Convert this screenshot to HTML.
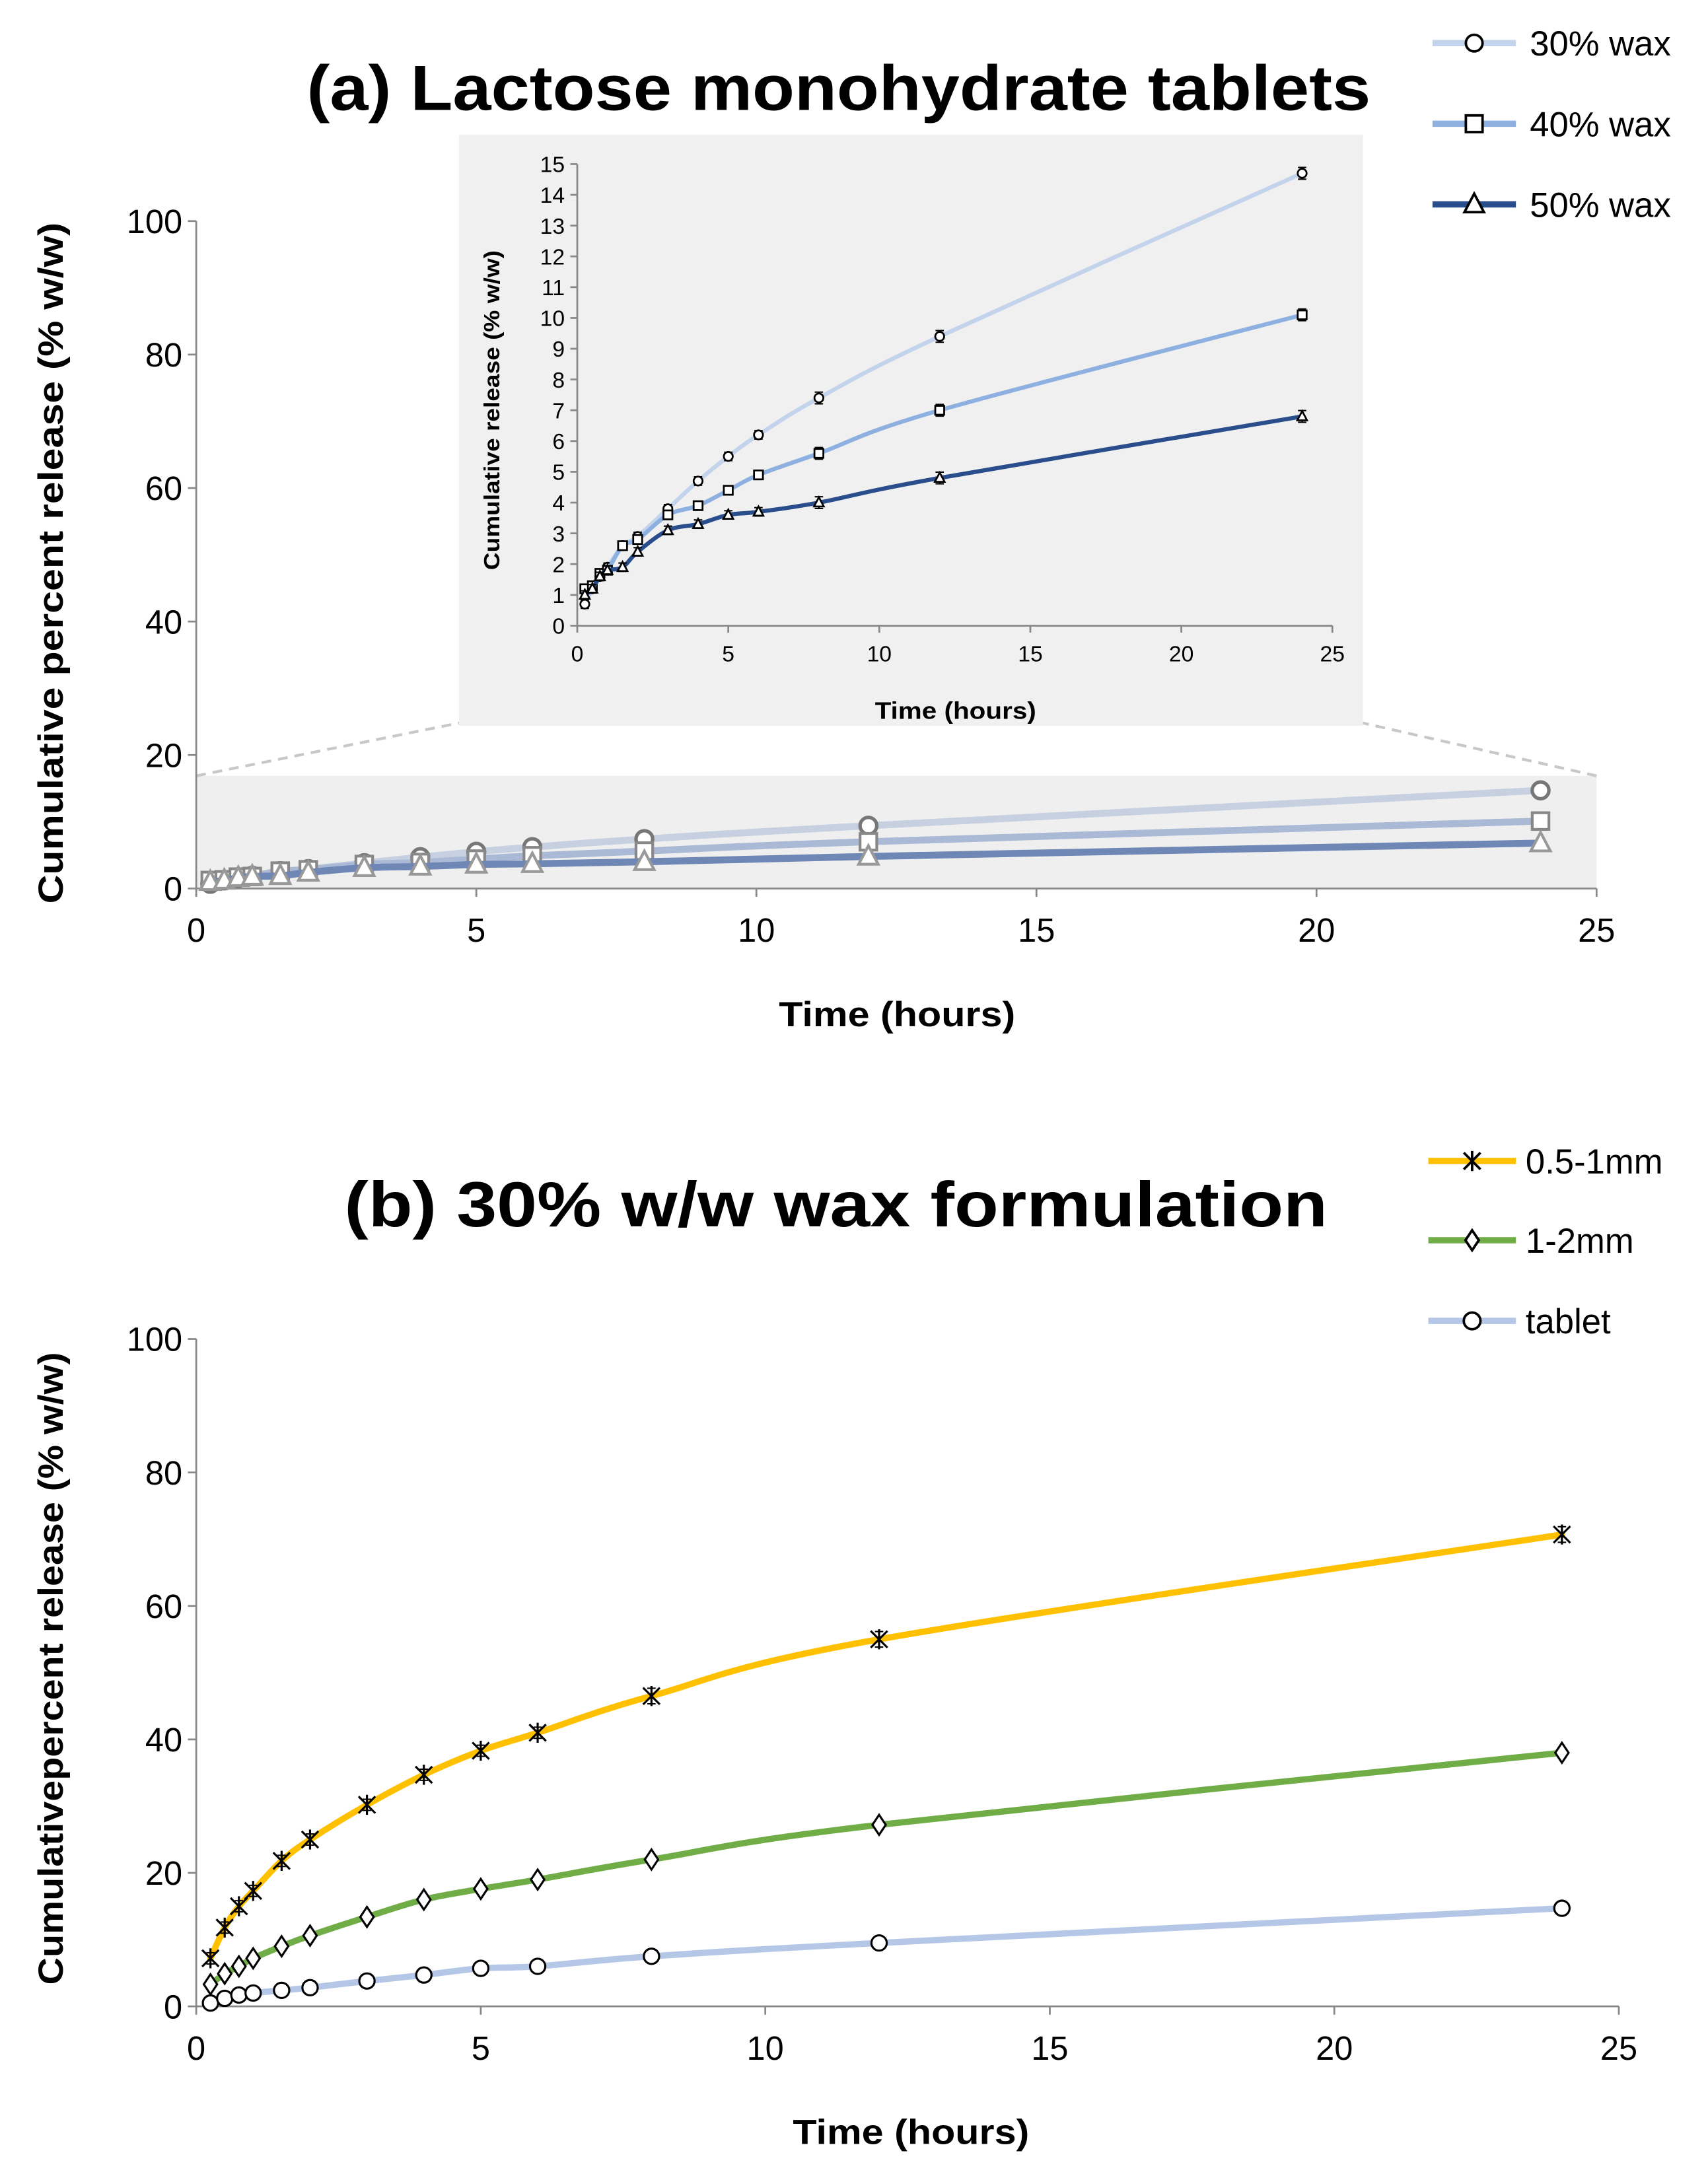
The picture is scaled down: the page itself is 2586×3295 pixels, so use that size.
<!DOCTYPE html>
<html><head><meta charset="utf-8"><style>
html,body{margin:0;padding:0;background:#fff;}
svg{display:block;font-family:"Liberation Sans",sans-serif;}
</style></head><body>
<svg id="fig" width="2586" height="3295" viewBox="0 0 1228 1565" xmlns="http://www.w3.org/2000/svg">
<g id="ga"></g>
<g id="gi"></g>
<g id="gb"></g>
</svg>
<script>
const times = [0.25,0.5,0.75,1,1.5,2,3,4,5,6,8,12,24];
const wax30 = [0.7,1.2,1.6,1.9,2.6,2.9,3.8,4.7,5.5,6.2,7.4,9.4,14.7];
const wax40 = [1.2,1.3,1.7,1.8,2.6,2.8,3.6,3.9,4.4,4.9,5.6,7.0,10.1];
const wax50 = [1.0,1.2,1.6,1.8,1.9,2.4,3.1,3.3,3.6,3.7,4.0,4.8,6.8];
const mm05 = [7.2,11.8,15,17.3,21.8,25,30.2,34.7,38.3,41,46.5,55,70.7];
const mm12 = [3.3,4.9,6,7.2,9,10.6,13.4,16,17.6,19,22,27.2,38];
const tablet = [0.5,1.2,1.7,2,2.4,2.8,3.8,4.7,5.7,6,7.5,9.5,14.7];
const xTicks = [0,5,10,15,20,25];
const yTicksMain = [0,20,40,60,80,100];
const yTicksInset = [0,1,2,3,4,5,6,7,8,9,10,11,12,13,14,15];
const NS="http://www.w3.org/2000/svg";
function el(p,t,a){const e=document.createElementNS(NS,t);for(const k in a)e.setAttribute(k,a[k]);p.appendChild(e);return e;}
function txt(p,x,y,s,a){const e=el(p,'text',Object.assign({x:x,y:y},a));e.textContent=s;return e;}
function smooth(pts){let d=`M${pts[0][0]},${pts[0][1]}`;for(let i=0;i<pts.length-1;i++){const p0=pts[Math.max(0,i-1)],p1=pts[i],p2=pts[i+1],p3=pts[Math.min(pts.length-1,i+2)];d+=` C${p1[0]+(p2[0]-p0[0])/6},${p1[1]+(p2[1]-p0[1])/6} ${p2[0]-(p3[0]-p1[0])/6},${p2[1]-(p3[1]-p1[1])/6} ${p2[0]},${p2[1]}`;}return d;}
function marker(g,type,x,y,r,sw,stroke){
  let m;
  if(type==='circle')m=el(g,'circle',{cx:x,cy:y,r:r,fill:'#fff',stroke:stroke,'stroke-width':sw});
  else if(type==='square')m=el(g,'rect',{x:x-r,y:y-r,width:2*r,height:2*r,fill:'#fff',stroke:stroke,'stroke-width':sw});
  else if(type==='tri')m=el(g,'polygon',{points:`${x},${y-r*1.1} ${x-r},${y+r*0.8} ${x+r},${y+r*0.8}`,fill:'#fff',stroke:stroke,'stroke-width':sw});
  else if(type==='diamond')m=el(g,'polygon',{points:`${x},${y-r*1.2} ${x+r*0.8},${y} ${x},${y+r*1.2} ${x-r*0.8},${y}`,fill:'#fff',stroke:stroke,'stroke-width':sw});
  else if(type==='star'){m=el(g,'path',{d:`M${x-r},${y-r}L${x+r},${y+r}M${x+r},${y-r}L${x-r},${y+r}M${x},${y-r*1.2}L${x},${y+r*1.2}`,stroke:stroke,'stroke-width':sw,fill:'none'});}
  return m;
}
function axes(g,X,Y,x0,x1,y0,y1,yt,fs,tickLen){
  const ax=el(g,'path',{d:`M${x0},${y1}V${y0}H${x1}`,stroke:'#888','stroke-width':1.3,fill:'none'});
  
  xTicks.forEach(t=>{el(g,'line',{x1:X(t),x2:X(t),y1:y0,y2:y0+tickLen,stroke:'#888','stroke-width':1.3});
    const l=txt(g,X(t),y0+fs*1.6,String(t),{'font-size':fs,'text-anchor':'middle',fill:'#000'});
    });
  yt.forEach(t=>{el(g,'line',{x1:x0-tickLen,x2:x0,y1:Y(t),y2:Y(t),stroke:'#888','stroke-width':1.3});
    const l=txt(g,x0-tickLen-4,Y(t)+fs*0.36,String(t),{'font-size':fs,'text-anchor':'end',fill:'#000'});
    });
}
function series(g,X,Y,vals,color,w,mk,r,sw,mstroke,name,err){
  const pts=times.map((t,i)=>[X(t),Y(vals[i])]);
  const p=el(g,'path',{d:smooth(pts),stroke:color,'stroke-width':w,fill:'none','stroke-linecap':'round'});
  
  pts.forEach((q,i)=>{
    if(err){const e=err*(i>9?1.4:1);el(g,'path',{d:`M${q[0]},${q[1]-e}V${q[1]+e}M${q[0]-3},${q[1]-e}H${q[0]+3}M${q[0]-3},${q[1]+e}H${q[0]+3}`,stroke:'#000','stroke-width':1,fill:'none'});}
    const m=marker(g,mk,q[0],q[1],r,sw,mstroke);
    
  });
}
function legend(g,y,color,mk,label,x0,x1,tx,r){
  const lg=el(g,'g',{});
  el(lg,'line',{x1:x0,x2:x1,y1:y,y2:y,stroke:color,'stroke-width':4.5});
  marker(lg,mk,(x0+x1)/2,y,r,1.8,'#000');
  txt(lg,tx,y+9,label,{'font-size':25,fill:'#000'});
}
// ---- chart a ----
(function(){
  const g=document.getElementById('ga');
  const X=t=>141+t*(1148-141)/25, Y=v=>639-v*(639-159)/100;
  const t=txt(g,603,79,'(a) Lactose monohydrate tablets',{'font-size':46,'font-weight':'bold','text-anchor':'middle',textLength:765,lengthAdjust:'spacingAndGlyphs'});
  
  el(g,'rect',{x:141,y:558,width:1007,height:81,fill:'#efefef'});
  el(g,'path',{d:'M141,558L330,520M1148,558L980,520',stroke:'#c8c8c8','stroke-width':2,'stroke-dasharray':'7,5',fill:'none'});
  axes(g,X,Y,141,1148,639,159,yTicksMain,24,6);
  series(g,X,Y,wax30,'#c6d0e0',5,'circle',6,2.5,'#777','wax30-main');
  series(g,X,Y,wax40,'#a9b9d6',5,'square',6,2,'#888','wax40-main');
  series(g,X,Y,wax50,'#6e87b5',5,'tri',7,2,'#999','wax50-main');
  const xl=txt(g,645,738,'Time (hours)',{'font-size':25,'font-weight':'bold','text-anchor':'middle',textLength:170,lengthAdjust:'spacingAndGlyphs'});
  
  const yl=txt(g,0,0,'Cumulative percent release (% w/w)',{'font-size':25,'font-weight':'bold','text-anchor':'middle',textLength:490,lengthAdjust:'spacingAndGlyphs',transform:'translate(45,405) rotate(-90)'});
  
  legend(g,31,'#c3d3ec','circle','30% wax',1030,1090,1100,6);
  legend(g,89,'#8eb0e0','square','40% wax',1030,1090,1100,6);
  legend(g,147,'#2a4d8c','tri','50% wax',1030,1090,1100,7);
})();
// ---- inset ----
(function(){
  const g=document.getElementById('gi');
  el(g,'rect',{x:330,y:97,width:650,height:425,fill:'#f0f0f0'});
  const X=t=>415+t*(958-415)/25, Y=v=>450-v*(450-118)/15;
  axes(g,X,Y,415,958,450,118,yTicksInset,16,5);
  series(g,X,Y,wax30,'#c3d3ec',3,'circle',3.2,1.3,'#000','wax30-inset',3);
  series(g,X,Y,wax40,'#8eb0e0',3,'square',3.2,1.3,'#000','wax40-inset',3);
  series(g,X,Y,wax50,'#2a4d8c',3,'tri',3.5,1.3,'#000','wax50-inset',3);
  const xl=txt(g,687,517,'Time (hours)',{'font-size':17,'font-weight':'bold','text-anchor':'middle',textLength:116,lengthAdjust:'spacingAndGlyphs'});
  
  const yl=txt(g,0,0,'Cumulative release (% w/w)',{'font-size':16,'font-weight':'bold','text-anchor':'middle',textLength:230,lengthAdjust:'spacingAndGlyphs',transform:'translate(359,295) rotate(-90)'});
  
})();
// ---- chart b ----
(function(){
  const g=document.getElementById('gb');
  const X=t=>141+t*(1164-141)/25, Y=v=>1443-v*(1443-963)/100;
  const t=txt(g,601,882,'(b) 30% w/w wax formulation',{'font-size':46,'font-weight':'bold','text-anchor':'middle',textLength:707,lengthAdjust:'spacingAndGlyphs'});
  
  axes(g,X,Y,141,1164,1443,963,yTicksMain,24,6);
  series(g,X,Y,tablet,'#b4c7e7',4.5,'circle',5.5,1.5,'#000','tablet');
  series(g,X,Y,mm12,'#70ad47',4.5,'diamond',6,1.5,'#000','1-2mm');
  series(g,X,Y,mm05,'#ffc000',4.5,'star',6,1.5,'#000','0.5-1mm',4);
  const xl=txt(g,655,1542,'Time (hours)',{'font-size':25,'font-weight':'bold','text-anchor':'middle',textLength:170,lengthAdjust:'spacingAndGlyphs'});
  
  const yl=txt(g,0,0,'Cumulativepercent release (% w/w)',{'font-size':25,'font-weight':'bold','text-anchor':'middle',textLength:455,lengthAdjust:'spacingAndGlyphs',transform:'translate(45,1200) rotate(-90)'});
  
  legend(g,835,'#ffc000','star','0.5-1mm',1027,1090,1097,6);
  legend(g,892,'#70ad47','diamond','1-2mm',1027,1090,1097,6);
  legend(g,950,'#b4c7e7','circle','tablet',1027,1090,1097,6);
})();
</script>
</body></html>
